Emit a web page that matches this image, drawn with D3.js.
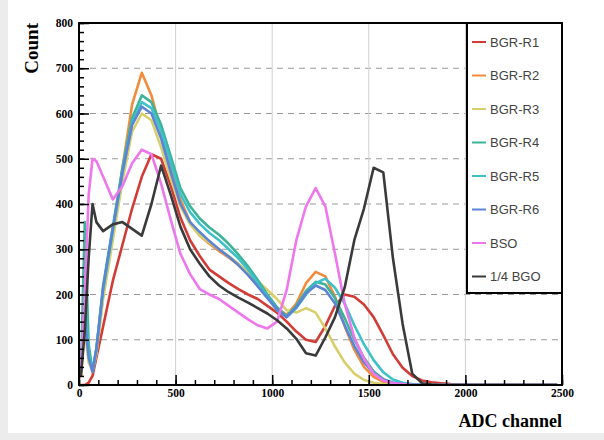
<!doctype html>
<html>
<head>
<meta charset="utf-8">
<title>ADC spectra</title>
<style>
  body { margin: 0; background: #ececec; }
  svg { display: block; }
  .tick text { font-family: "Liberation Serif", "DejaVu Serif", serif; font-weight: bold; font-size: 11.5px; fill: #000; }
</style>
<script src="https://cdn.jsdelivr.net/npm/d3@7/dist/d3.min.js"></script>
</head>
<body>
<svg width="604" height="440"></svg>
<script>
// bin edges of the histograms (ADC channel): fine bins near pedestal, then 50 ch
var binEdges = [0, 20, 40, 60, 80].concat(d3.range(100, 2501, 50));

var seriesNames = ["BGR-R1", "BGR-R2", "BGR-R3", "BGR-R4", "BGR-R5", "BGR-R6", "BSO", "1/4 BGO"];
var seriesColors = ["#d33b36", "#f28c3c", "#d9cf6a", "#3db39a", "#3ec1c9", "#5b84d6", "#ee77ee", "#3a3a3a"];

// counts per bin
var r1 = [0, 0, 5, 20, 60,
  130, 230, 310, 390, 460, 510, 500, 440, 370, 320, 285, 255, 240, 225, 212, 200, 190, 175,
  160, 140, 118, 100, 95, 130, 175, 200, 195, 178, 150, 110, 68, 38, 20, 10, 6, 4, 2, 1,
  0, 0, 0, 0, 0, 0, 0, 0, 0, 0];
var r2 = [20, 150, 60, 30, 70,
  200, 330, 480, 620, 690, 640, 560, 480, 410, 360, 330, 312, 296, 282, 265, 245, 220, 195,
  170, 155, 180, 225, 250, 240, 195, 130, 78, 40, 18, 7, 3, 1, 0, 0, 0, 0, 0, 0,
  0, 0, 0, 0, 0, 0, 0, 0, 0, 0];
var r3 = [20, 120, 50, 30, 70,
  190, 320, 450, 560, 600, 585, 525, 455, 395, 355, 330, 315, 300, 285, 268, 250, 230, 210,
  190, 165, 160, 170, 160, 125, 85, 50, 25, 11, 5, 2, 1, 0, 0, 0, 0, 0, 0, 0,
  0, 0, 0, 0, 0, 0, 0, 0, 0, 0];
var r4 = [30, 360, 90, 30, 80,
  220, 350, 480, 590, 640, 625, 575, 505, 435, 395, 368, 348, 332, 312, 288, 262, 232, 200,
  172, 152, 175, 208, 228, 222, 192, 148, 100, 60, 30, 13, 5, 2, 1, 0, 0, 0, 0, 0,
  0, 0, 0, 0, 0, 0, 0, 0, 0, 0];
var r5 = [30, 180, 70, 30, 80,
  210, 340, 470, 580, 625, 612, 562, 492, 422, 382, 356, 336, 320, 300, 280, 255, 225, 195,
  165, 150, 170, 200, 225, 235, 215, 180, 132, 90, 55, 28, 12, 5, 2, 1, 0, 0, 0, 0,
  0, 0, 0, 0, 0, 0, 0, 0, 0, 0];
var r6 = [30, 150, 60, 30, 80,
  215, 345, 470, 575, 615, 600, 545, 470, 400, 360, 338, 318, 300, 284, 265, 243, 218, 192,
  167, 150, 172, 202, 220, 210, 180, 132, 86, 50, 26, 12, 5, 2, 1, 0, 0, 0, 0, 0,
  0, 0, 0, 0, 0, 0, 0, 0, 0, 0];
var bso = [30, 200, 420, 500, 495,
  460, 410, 440, 490, 520, 510, 445, 365, 290, 245, 212, 200, 190, 175, 160, 145, 132, 125,
  140, 210, 320, 395, 435, 395, 290, 180, 105, 58, 25, 10, 4, 2, 0, 0, 0, 0, 0, 0,
  0, 0, 0, 0, 0, 0, 0, 0, 0, 0];
var bgo = [20, 120, 280, 400, 360,
  340, 355, 360, 345, 330, 400, 485, 420, 350, 300, 268, 240, 220, 205, 193, 182, 170, 158,
  143, 125, 102, 70, 65, 105, 150, 215, 320, 390, 480, 470, 280, 135, 25, 4, 1, 0, 0, 0,
  0, 0, 0, 0, 0, 0, 0, 0, 0, 0];

var seriesValues = [r1, r2, r3, r4, r5, r6, bso, bgo];

var xTicks = [0, 500, 1000, 1500, 2000, 2500];
var yTicks = [0, 100, 200, 300, 400, 500, 600, 700, 800];

var svg = d3.select("svg"),
    padL = 79, padR = 562, padT = 23, padB = 385;

var x = d3.scaleLinear().domain([0, 2500]).range([padL, padR]);
var y = d3.scaleLinear().domain([0, 800]).range([padB, padT]);

svg.append("rect").attr("x", 8).attr("y", 0).attr("width", 596).attr("height", 433).attr("fill", "#fff");

// grid
svg.append("g").selectAll("line").data(yTicks.slice(1, -1)).enter().append("line")
  .attr("x1", padL).attr("x2", padR)
  .attr("y1", function(d) { return y(d); }).attr("y2", function(d) { return y(d); })
  .attr("stroke", "#9a9a9a").attr("stroke-width", 1).attr("stroke-dasharray", "6,5");
svg.append("g").selectAll("line").data(xTicks.slice(1, -1)).enter().append("line")
  .attr("y1", padT).attr("y2", padB)
  .attr("x1", function(d) { return x(d); }).attr("x2", function(d) { return x(d); })
  .attr("stroke", "#cfcfcf").attr("stroke-width", 1);

svg.append("clipPath").attr("id", "plotclip").append("rect")
  .attr("x", padL).attr("y", padT).attr("width", padR - padL).attr("height", padB - padT);

// histograms, drawn at bin centres
var line = d3.line()
  .x(function(d, i) { return x((binEdges[i] + binEdges[i + 1]) / 2); })
  .y(function(d) { return y(d); });

svg.append("g").attr("clip-path", "url(#plotclip)")
  .selectAll("path").data(seriesValues).enter().append("path")
  .attr("d", line)
  .attr("fill", "none")
  .attr("stroke", function(d, i) { return seriesColors[i]; })
  .attr("stroke-width", 2.6)
  .attr("stroke-linejoin", "round");

// axes, ticks inside the frame
svg.append("g").attr("transform", "translate(" + padL + ",0)")
  .call(d3.axisLeft(y).tickValues(yTicks).tickFormat(d3.format("d")).tickSizeInner(-10).tickSizeOuter(0).tickPadding(6));
svg.append("g").attr("transform", "translate(" + padL + ",0)")
  .call(d3.axisLeft(y).tickValues(d3.range(0, 801, 20)).tickSizeInner(-5).tickSizeOuter(0).tickFormat(""));
svg.append("g").attr("transform", "translate(0," + padB + ")")
  .call(d3.axisBottom(x).tickValues(xTicks).tickFormat(d3.format("d")).tickSizeInner(-10).tickSizeOuter(0).tickPadding(4));
svg.append("g").attr("transform", "translate(0," + padB + ")")
  .call(d3.axisBottom(x).tickValues(d3.range(0, 2501, 100)).tickSizeInner(-5).tickSizeOuter(0).tickFormat(""));
svg.selectAll(".domain").remove();
svg.selectAll(".tick line").attr("stroke", "#000").attr("stroke-width", 1.5);

svg.append("rect").attr("x", padL).attr("y", padT).attr("width", padR - padL).attr("height", padB - padT)
  .attr("fill", "none").attr("stroke", "#000").attr("stroke-width", 2);

// axis titles
svg.append("text").attr("transform", "translate(38," + padT + ") rotate(-90)")
  .attr("text-anchor", "end")
  .style("font-family", "Liberation Serif, serif").style("font-weight", "bold").style("font-size", "19px")
  .text("Count");
svg.append("text").attr("x", padR).attr("y", 427).attr("text-anchor", "end")
  .style("font-family", "Liberation Serif, serif").style("font-weight", "bold").style("font-size", "18px")
  .text("ADC channel");

// legend
var legend = svg.append("g");
legend.append("rect").attr("x", 467).attr("y", padT).attr("width", padR - 467).attr("height", 270)
  .attr("fill", "#fff").attr("stroke", "#000").attr("stroke-width", 2);
var entry = legend.selectAll("g.entry").data(seriesNames).enter().append("g").attr("class", "entry")
  .attr("transform", function(d, i) { return "translate(0," + (42 + i * 33.5) + ")"; });
entry.append("line").attr("x1", 472).attr("x2", 486).attr("y1", 0).attr("y2", 0)
  .attr("stroke", function(d, i) { return seriesColors[i]; }).attr("stroke-width", 2);
entry.append("text").attr("x", 490).attr("y", 4.5)
  .style("font-family", "Liberation Sans, Arial, sans-serif").style("font-size", "13px").style("fill", "#444")
  .text(function(d) { return d; });
</script>
</body>
</html>
